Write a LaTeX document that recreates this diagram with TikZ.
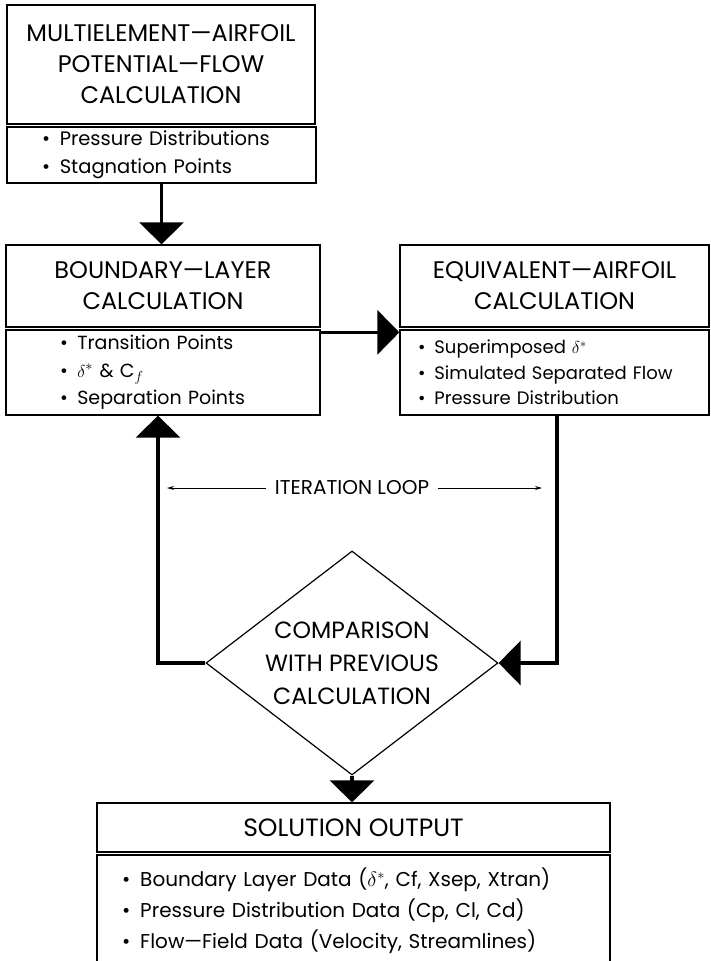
\documentclass[tikz,border=0pt]{standalone}
\usepackage{fontspec}
\setmainfont{Poppins}
\usetikzlibrary{arrows.meta,shapes.geometric}

\newcommand{\hdrfont}{\fontsize{24}{31}\selectfont}
\newcommand{\itemfont}{\fontsize{19}{27.5}\selectfont}
\newcommand{\outfont}{\fontsize{20}{31}\selectfont}
\newcommand{\bul}{\textbullet\enspace}

\tikzset{
  hdr/.style={draw, line width=1.3pt, align=center, font=\hdrfont, inner sep=0pt},
  body/.style={draw, line width=1.3pt, align=left, font=\itemfont, inner ysep=0pt},
  decision/.style={draw, diamond, line width=1.2pt, inner sep=0pt},
  flow/.style={line width=3.5pt, -{Triangle[length=22pt,width=44pt]}},
  loopline/.style={line width=0.9pt, -{Stealth[length=7pt,width=4pt]}},
}

\begin{document}
\begin{tikzpicture}[x=1pt, y=-1pt]
    \useasboundingbox (0,0) rectangle (710,961);
    % potential-flow box
    \node[hdr, minimum width=308, minimum height=119] (pf) at (161,64.5) {MULTIELEMENT---AIRFOIL\\POTENTIAL---FLOW\\CALCULATION};
    \node[body, font=\fontsize{19.5}{28}\selectfont, minimum width=309, minimum height=56, inner xsep=35pt, text width=239pt] (pfbody) at (161.5,155) {\bul Pressure Distributions\\\bul Stagnation Points};
    % boundary-layer box
    \node[hdr, minimum width=314, minimum height=82] (bl) at (163,286) {BOUNDARY---LAYER\\CALCULATION};
    \node[body, minimum width=314, minimum height=85, inner xsep=54pt, text width=206pt] (blbody) at (163,372.5) {\bul Transition Points\\\bul $\delta^{*}$ \& C$_{f}$\\\bul Separation Points};
    % equivalent-airfoil box
    \node[hdr, minimum width=309, minimum height=82] (eq) at (554.5,286) {EQUIVALENT---AIRFOIL\\CALCULATION};
    \node[body, font=\fontsize{18}{25.5}\selectfont, minimum width=309, minimum height=85, inner xsep=18pt, text width=273pt] (eqbody) at (554.5,372.5) {\bul Superimposed $\delta^{*}$\\\bul Simulated Separated Flow\\\bul Pressure Distribution};
    % comparison
    \node[decision, minimum width=292, minimum height=224] (cmp) at (352,663) {};
    \node[align=center, font=\fontsize{23.5}{33}\selectfont] (cmptxt) at (cmp) {COMPARISON\\WITH PREVIOUS\\CALCULATION};
    % output box
    \node[hdr, font=\fontsize{25}{31}\selectfont, minimum width=513, minimum height=49] (so) at (353.5,827.5) {SOLUTION OUTPUT};
    \node[body, font=\outfont, minimum width=513, minimum height=112, inner xsep=25pt, text width=463pt] (sobody) at (353.5,911) {\bul Boundary Layer Data ($\delta^{*}$, Cf, Xsep, Xtran)\\\bul Pressure Distribution Data (Cp, Cl, Cd)\\\bul Flow---Field Data (Velocity, Streamlines)};
    % iteration loop
    \node[font=\fontsize{20}{24}\selectfont, inner xsep=9pt] (iter) at (352,488) {ITERATION LOOP};
    \coordinate (iterL) at (167,488);
    \coordinate (iterR) at (542,488);
    \draw[loopline] (iter.west) -- (iterL);
    \draw[loopline] (iter.east) -- (iterR);
    % connectors
    \draw[flow] (pfbody.south) -- (pfbody.south |- bl.north);
    \draw[flow] ([yshift=-3pt]blbody.north east) -- ([yshift=-3pt]blbody.north east -| eqbody.west);
    \draw[flow] ([xshift=2.5pt]eqbody.south) |- (cmp.east);
    \draw[flow] (cmp.west) -| ([xshift=-5pt]blbody.south);
    \draw[flow] (cmp.south) -- (cmp.south |- so.north);
\end{tikzpicture}
\end{document}
